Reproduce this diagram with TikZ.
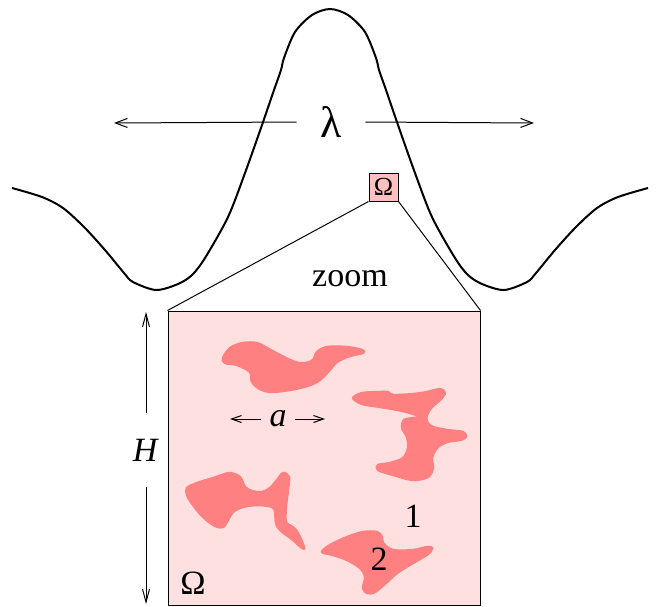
\documentclass[tikz,border=0pt]{standalone}
\usepackage{fontspec}
\setmainfont{Liberation Serif}
\usetikzlibrary{arrows.meta}
\definecolor{zoompink}{HTML}{FFE0E0}
\definecolor{cellpink}{HTML}{FFC0C0}
\definecolor{grainred}{HTML}{FF8080}

\begin{document}
\begin{tikzpicture}[x=0.5pt, y=-0.5pt,
      font=\fontsize{17}{20}\selectfont,
      onda/.style={line width=1pt, line join=round},
      fino/.style={line width=0.5pt},
      grao/.style={fill=grainred, draw=grainred, line width=1.2pt, line join=round},
      setal/.style={fino, -{Straight Barb[length=6pt,width=4.5pt]}},
      setah/.style={fino, -{Straight Barb[length=6.5pt,width=3.5pt]}},
      setaa/.style={fino, -{Straight Barb[length=5pt,width=3.5pt]}},
      rotulo/.style={inner sep=0pt}]
    \useasboundingbox (0,0) rectangle (662,606);
    \draw[onda] plot[smooth, tension=0.5] coordinates {
      (12,188) (42,197) (63,208) (84,227) (105,250) (124,273) (133,282) (156,290)
      (178,284) (192,275) (205,258) (228,217) (245,173) (262,125) (274,90) (281,70)
      (284,58) (295,32) (312,15) (330,9) (348,15) (365,32) (376,58) (379,70)
      (386,90) (398,125) (415,173) (432,217) (455,258) (468,275) (482,284) (504,290)
      (527,282) (536,273) (555,250) (576,227) (597,208) (618,197) (648,188)};
    \node[rotulo, minimum width=34pt, font=\fontsize{22}{24}\selectfont] (lam) at (331,122) {λ};
    \coordinate (lamL) at (114,123);
    \coordinate (lamR) at (534,123);
    \draw[setal] (lam.west) -- (lamL);
    \draw[setal] (lam.east) -- (lamR);
    \node[draw, fino, fill=cellpink, rotulo, minimum width=14.5pt, minimum height=14pt,
          font=\fontsize{13}{15}\selectfont] (om) at (383.5,187) {Ω};
    \node[draw, fino, fill=zoompink, minimum width=156pt, minimum height=147pt] (dom) at (324,458) {};
    \draw[fino] (om.south west) -- (dom.north west);
    \draw[fino] (om.south east) -- (dom.north east);
    \node[rotulo] (zm) at (350,279) {zoom};
    \filldraw[grao] plot[smooth cycle, tension=0.55] coordinates {
      (223,358) (230,348) (243,343) (257,343) (267,348) (280,355) (295,362) (305,363)
      (313,360) (317,352) (327,347) (347,347) (362,350) (363,353) (350,356) (337,362)
      (328,372) (317,382) (300,388) (273,392) (260,389) (252,382) (250,372) (237,365)
      (225,363)};
    \filldraw[grao] plot[smooth cycle, tension=0.5] coordinates {
      (353,398) (362,393) (380,392) (388,392) (393,395) (413,394) (427,392) (440,389)
      (445,393) (440,400) (432,407) (427,415) (427,422) (433,427) (447,430) (463,432)
      (466,437) (460,440) (447,442) (437,448) (432,458) (433,468) (428,477) (413,480)
      (393,475) (378,470) (378,465) (390,463) (403,458) (408,448) (407,437) (402,428)
      (404,420) (413,418) (421,417) (410,413) (398,410) (380,407) (362,404)};
    \filldraw[grao] plot[smooth cycle, tension=0.55] coordinates {
      (187,488) (197,483) (213,478) (222,475) (230,473) (240,477) (245,487) (252,491)
      (262,492) (270,488) (277,480) (283,473) (289,477) (288,490) (286,507) (286,522)
      (293,527) (298,533) (304,547) (302,548) (293,540) (280,530) (276,523) (275,512)
      (272,507) (258,505) (243,507) (233,512) (228,520) (223,527) (215,526) (203,517)
      (193,505) (187,495)};
    \filldraw[grao] plot[smooth cycle, tension=0.55] coordinates {
      (322,552) (330,545) (347,537) (363,532) (377,532) (382,537) (383,543) (393,550)
      (413,550) (427,547) (432,548) (428,554) (413,563) (397,573) (387,582) (375,592)
      (367,593) (363,588) (365,577) (360,568) (347,560) (333,555)};
    \node[rotulo] (aa) at (278,419) {\textit{a}};
    \coordinate (aL) at (230,419);
    \coordinate (aR) at (325,419);
    \draw[setaa] (aa.west) ++(-4pt,0) -- (aL);
    \draw[setaa] (aa.east) ++(4pt,0) -- (aR);
    \node[rotulo] (n1) at (413,516) {1};
    \node[rotulo] (n2) at (379,559) {2};
    \node[rotulo] (omg) at (193,583) {Ω};
    \node[rotulo, minimum height=37pt] (hh) at (146,450) {\textit{H}};
    \coordinate (hT) at (146,312);
    \coordinate (hB) at (146,604);
    \draw[setah] (hh.north) -- (hT);
    \draw[setah] (hh.south) -- (hB);
  \end{tikzpicture}
\end{document}
